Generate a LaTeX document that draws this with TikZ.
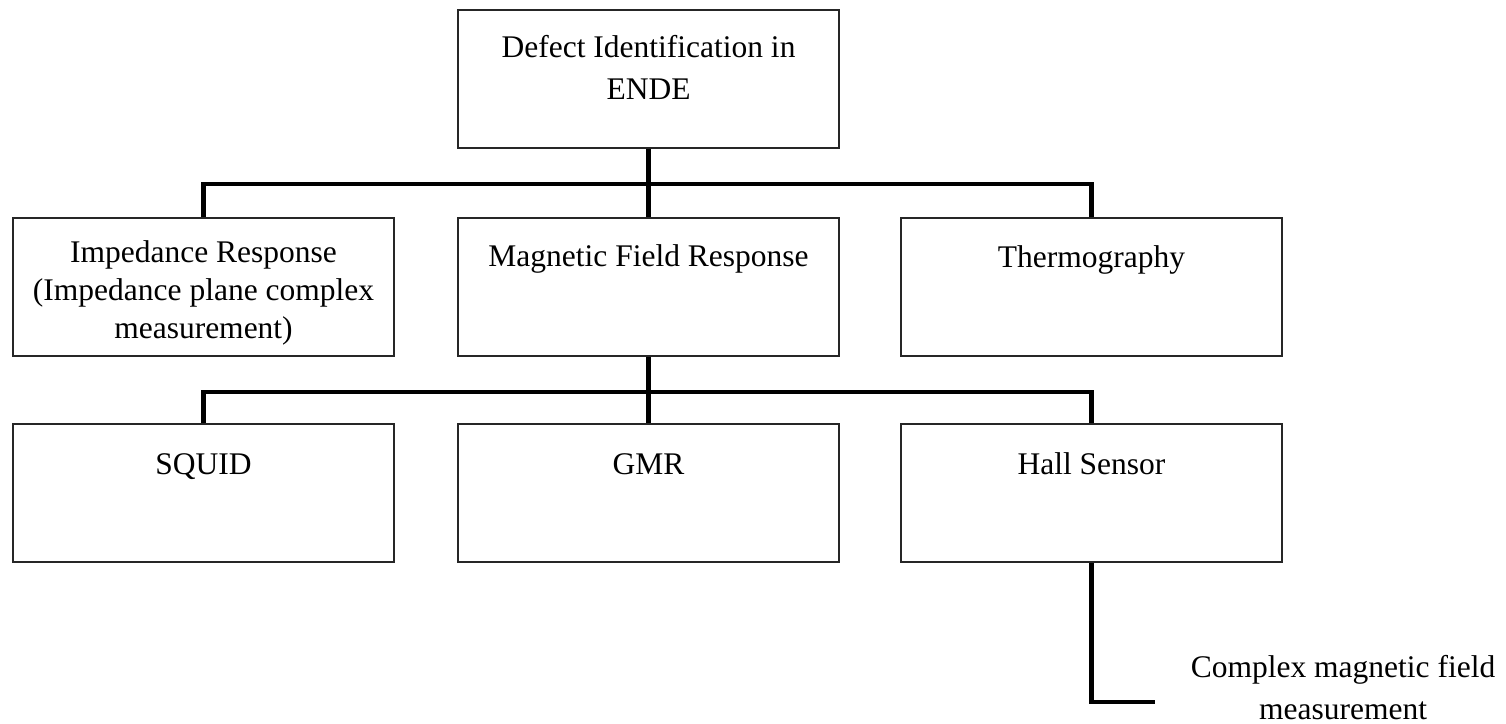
\documentclass[tikz,border=0pt]{standalone}
\usepackage{fontspec}
\setmainfont{Liberation Serif}[Ligatures=CommonOff]
\begin{document}
\begin{tikzpicture}[x=1pt,y=-1pt,
  box/.style={draw=black!85,line width=1.3pt,minimum width=381pt,minimum height=138pt,inner sep=0pt,fill=white},
  label/.style={anchor=base,align=center,inner sep=0pt,font=\fontsize{31.5}{38}\selectfont},
  conn/.style={line width=4.6pt,black}]
  \useasboundingbox (0,0) rectangle (1506,723);

  % boxes
  \node[box] (top)    at (648.5,79) {};
  \node[box] (imp)    at (203.5,287) {};
  \node[box] (mag)    at (648.5,287) {};
  \node[box] (thermo) at (1091.5,287) {};
  \node[box] (squid)  at (203.5,493) {};
  \node[box] (gmr)    at (648.5,493) {};
  \node[box] (hall)   at (1091.5,493) {};

  % bus points
  \coordinate (bus1) at (648.5,184);
  \coordinate (bus2) at (648.5,392);
  \coordinate (hallend) at (1155,702);

  % connectors
  \draw[conn] (top.south) -- (mag.north);
  \draw[conn] (imp.north) |- (bus1) -| (thermo.north);
  \draw[conn] (mag.south) -- (gmr.north);
  \draw[conn] (squid.north) |- (bus2) -| (hall.north);
  \draw[conn] (hall.south) |- (hallend);

  % texts (anchored at the baseline of the last line)
  \node[label,font=\fontsize{31.5}{42.5}\selectfont] (ttop) at (648.5,99.5) {Defect Identification in\\ENDE};
  \node[label] (timp) at (203.5,338.5) {Impedance Response\\(Impedance plane complex\\measurement)};
  \node[label] (tmag) at (648.5,266) {Magnetic Field Response};
  \node[label] (tthermo) at (1091.5,267) {Thermography};
  \node[label] (tsquid) at (203.5,474) {SQUID};
  \node[label] (tgmr) at (648.5,474) {GMR};
  \node[label] (thall) at (1091.5,474) {Hall Sensor};
  \node[label,font=\fontsize{31.5}{42}\selectfont] (tcomplex) at (1343,719) {Complex magnetic field\\measurement};
\end{tikzpicture}
\end{document}
